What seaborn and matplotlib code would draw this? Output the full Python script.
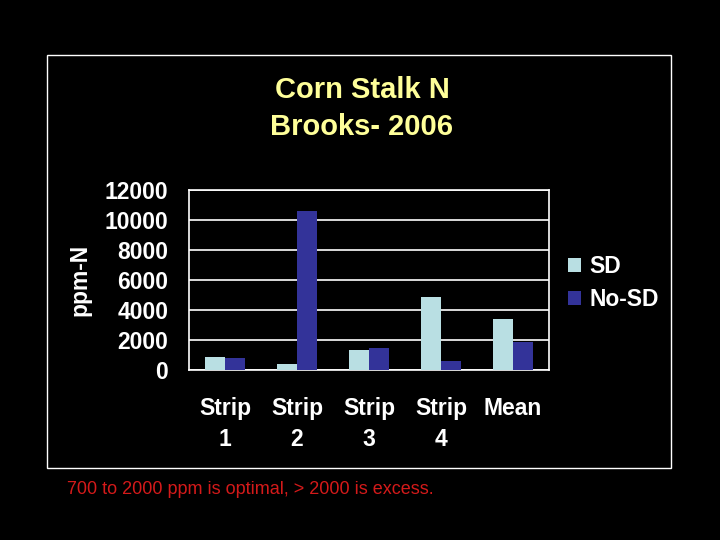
import pandas as pd
import matplotlib.pyplot as plt
import seaborn as sns
from matplotlib.patches import Rectangle

# values
categories = ['Strip\n1', 'Strip\n2', 'Strip\n3', 'Strip\n4', 'Mean']
sd_values = [870, 400, 1330, 4870, 3400]
nosd_values = [800, 10600, 1470, 600, 1870]
series = ['SD', 'No-SD']
y_ticks = [0, 2000, 4000, 6000, 8000, 10000, 12000]

df = pd.DataFrame({
    'Category': categories * 2,
    'ppm': sd_values + nosd_values,
    'Series': [series[0]] * len(categories) + [series[1]] * len(categories),
})

sns.set_style('dark')
plt.rcParams['font.family'] = ['Liberation Sans', 'DejaVu Sans']

fig = plt.figure(figsize=(7.2, 5.4), dpi=100, facecolor='black')
ax = fig.add_axes([189 / 720, 1 - 370 / 540, 360 / 720, 180 / 540])
ax.set_facecolor('black')

sns.barplot(
    data=df, x='Category', y='ppm', hue='Series',
    palette=['#B9DFE3', '#333399'],
    width=0.57, gap=0.04, saturation=1, ax=ax, zorder=3,
    linewidth=0, edgecolor='none',
)

ax.set_ylim(0, 12000)
ax.set_xlim(-0.5, len(categories) - 0.5)
ax.set_yticks(y_ticks)
ax.set_yticklabels([str(v) for v in y_ticks])
ax.yaxis.grid(True, color='white', linewidth=1.2, zorder=1)
ax.xaxis.grid(False)

# ticks at the category boundaries, labels at the centres
ax.set_xticks([i - 0.5 for i in range(len(categories) + 1)], minor=True)
ax.tick_params(axis='x', which='minor', length=6, width=1.2, color='white', direction='out')
ax.tick_params(axis='x', which='major', length=0, pad=19.5, labelsize=16.5,
               labelcolor='white')
ax.tick_params(axis='y', length=5, width=1.2, color='white', direction='out',
               labelsize=16.5, labelcolor='white', pad=10)
for lab in ax.get_xticklabels() + ax.get_yticklabels():
    lab.set_fontweight('bold')
for lab in ax.get_xticklabels():
    lab.set_linespacing(1.45)
    lab.set_verticalalignment('top')

for side in ['left', 'bottom', 'top', 'right']:
    ax.spines[side].set_visible(True)
    ax.spines[side].set_color('white')
    ax.spines[side].set_linewidth(1.2)

ax.set_xlabel('')
ax.set_ylabel('ppm-N', color='white', fontsize=16.5, fontweight='bold')
ax.yaxis.set_label_coords(-0.27, 0.5)

leg = ax.legend(
    loc='center left', bbox_to_anchor=(568 / 720, 1 - 283 / 540),
    bbox_transform=fig.transFigure, frameon=False,
    handlelength=0.55, handleheight=0.55, handletextpad=0.4,
    labelspacing=0.45, borderpad=0, borderaxespad=0,
    prop={'size': 16.5, 'weight': 'bold'},
)
for t in leg.get_texts():
    t.set_color('white')
for h in leg.legend_handles:
    h.set_linewidth(0)

# outer frame of the slide chart
fig.patches.append(Rectangle((47 / 720, 1 - 468 / 540), 624 / 720, 413 / 540,
                             transform=fig.transFigure, fill=False,
                             edgecolor='white', linewidth=1))

fig.text(362 / 720, 1 - 90 / 540, 'Corn Stalk N', color='#FFFF99',
         fontsize=21, fontweight='bold', ha='center', va='center')
fig.text(362 / 720, 1 - 127 / 540, 'Brooks- 2006', color='#FFFF99',
         fontsize=21, fontweight='bold', ha='center', va='center')
fig.text(67 / 720, 1 - 489 / 540, '700 to 2000 ppm is optimal, > 2000 is excess.',
         color='#D41A1A', fontsize=13, ha='left', va='center')

plt.savefig('out.png', dpi=100, facecolor='black')
plt.close()
